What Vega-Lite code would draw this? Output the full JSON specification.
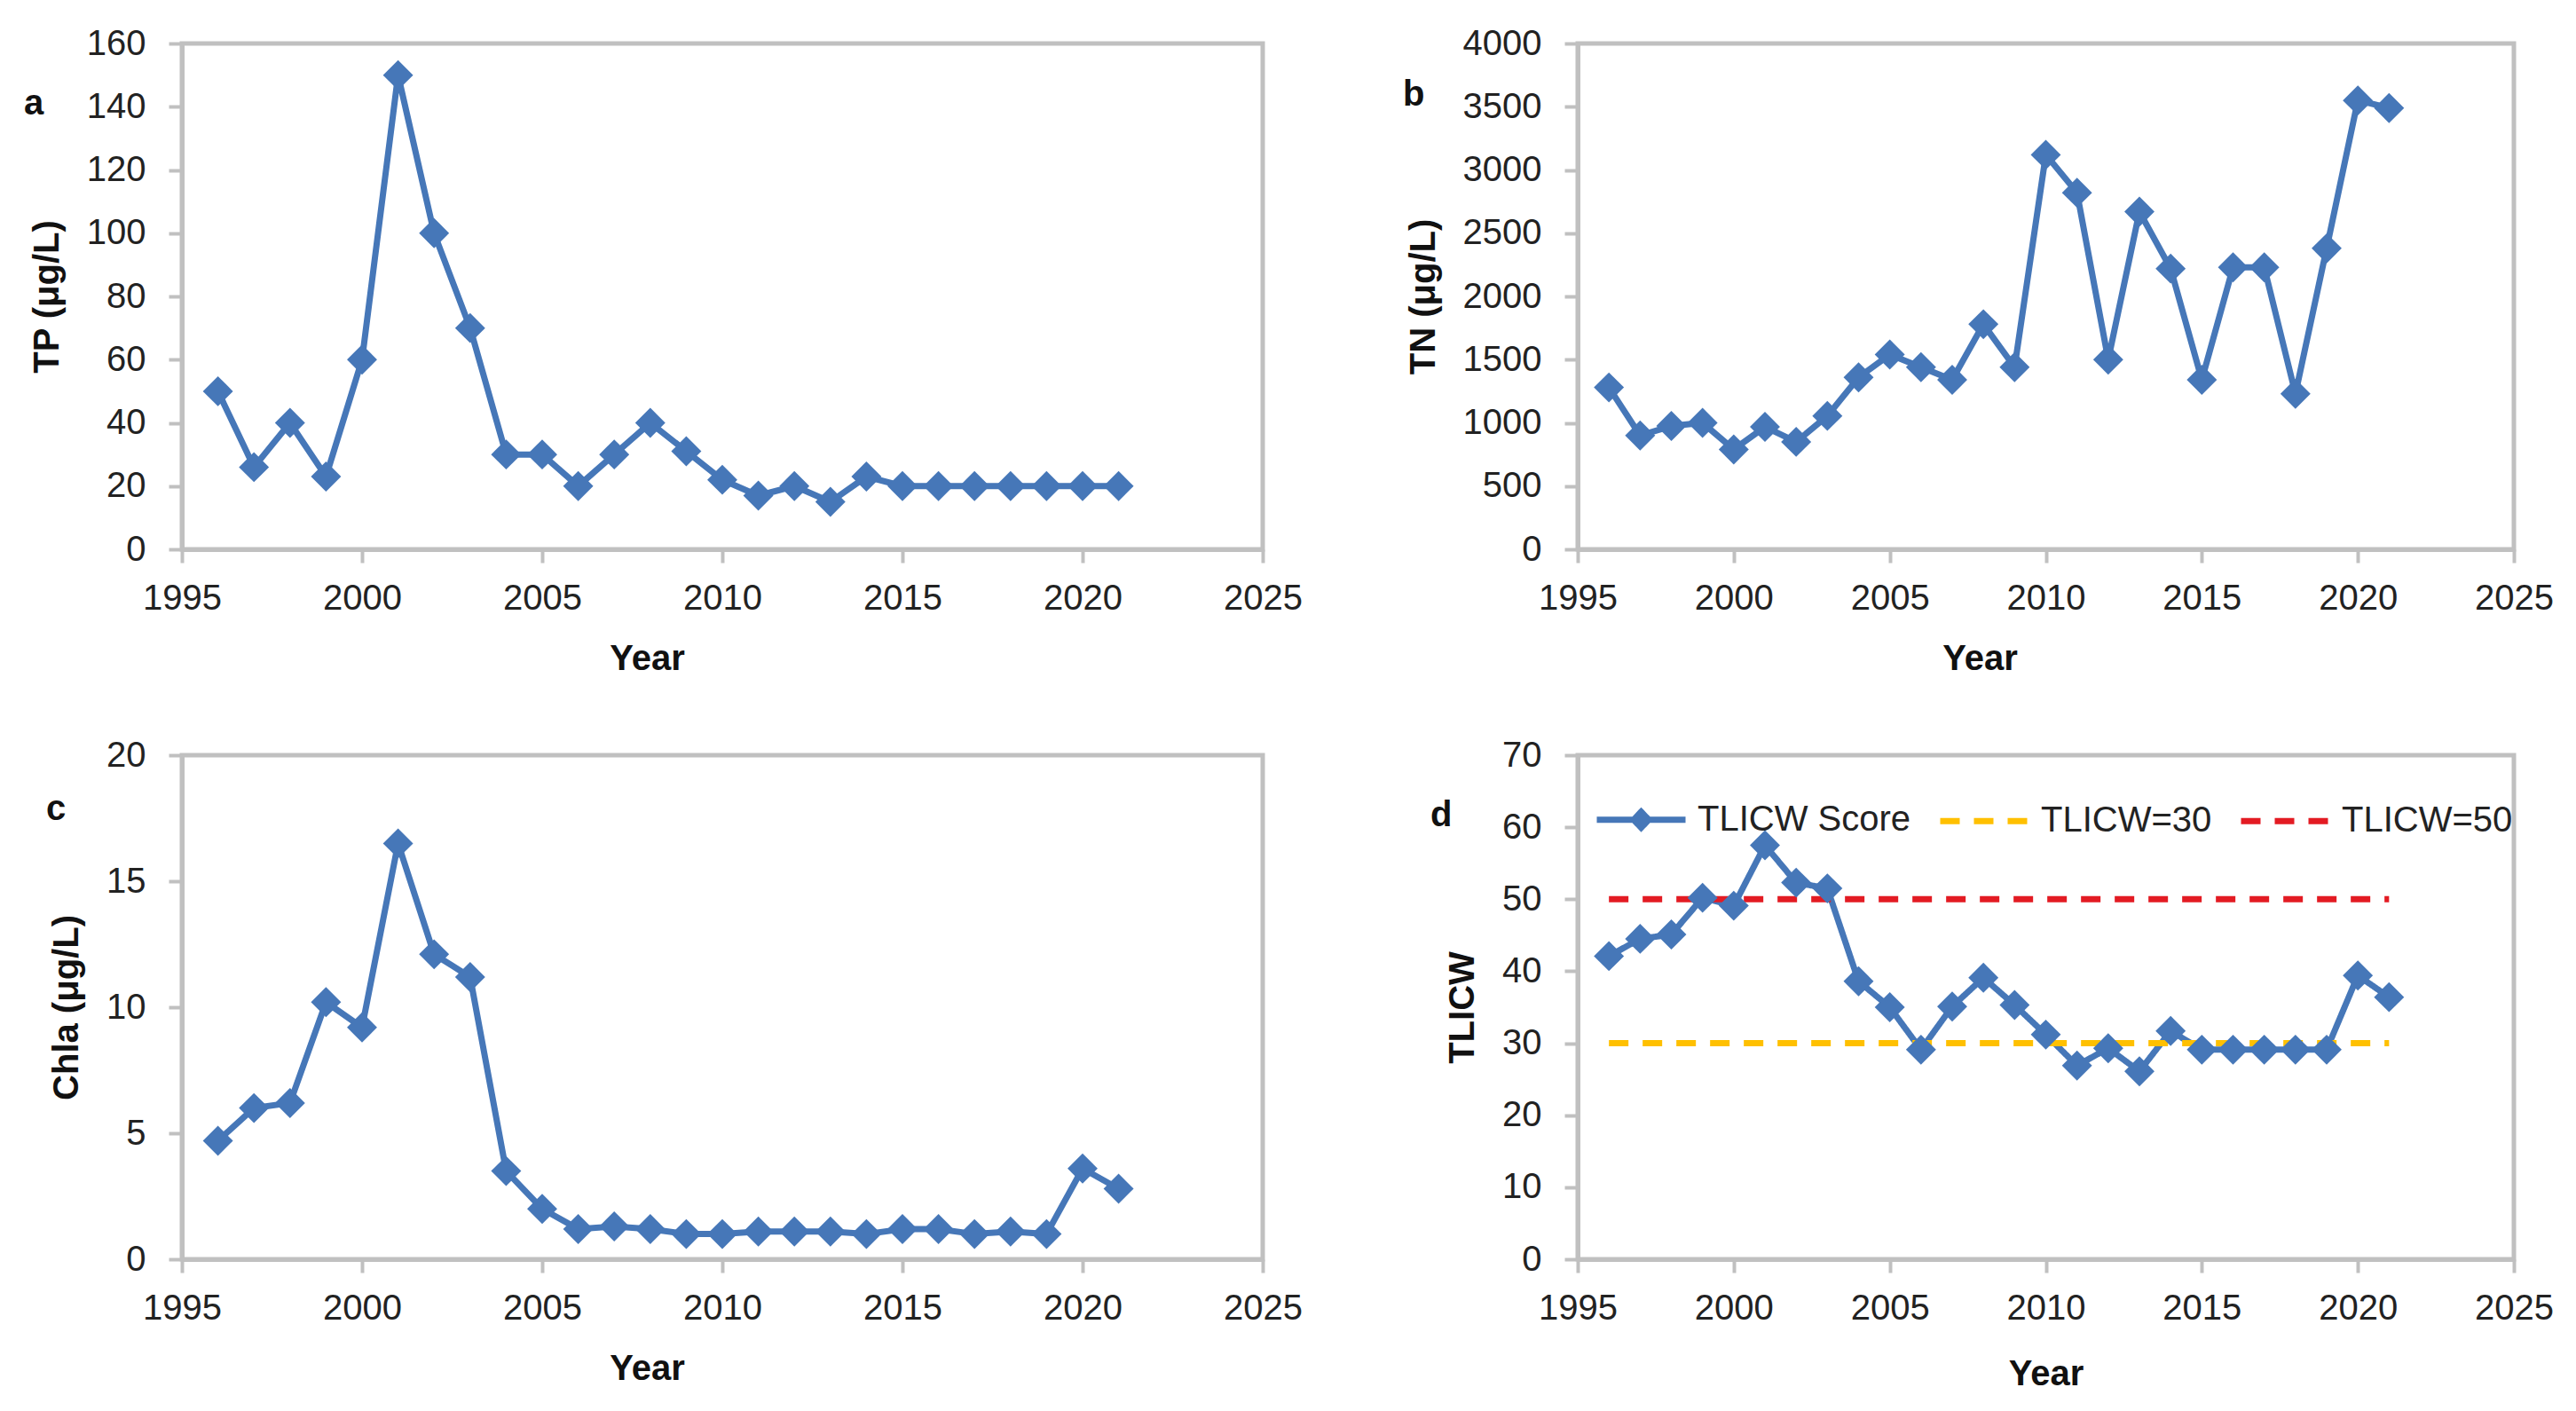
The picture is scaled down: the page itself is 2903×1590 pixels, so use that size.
{
  "$schema": "https://vega.github.io/schema/vega-lite/v6.json",
  "background": "white",
  "padding": {"left": 24, "top": 26, "right": 10, "bottom": 10},
  "bounds": "flush",
  "columns": 2,
  "spacing": {"row": 232, "column": 355},
  "resolve": {"scale": {"x": "independent", "y": "independent", "color": "independent", "strokeDash": "independent"}},
  "datasets": {
    "tp": [
      {"Year": 1996, "TP": 50}, {"Year": 1997, "TP": 26}, {"Year": 1998, "TP": 40}, {"Year": 1999, "TP": 23},
      {"Year": 2000, "TP": 60}, {"Year": 2001, "TP": 150}, {"Year": 2002, "TP": 100}, {"Year": 2003, "TP": 70},
      {"Year": 2004, "TP": 30}, {"Year": 2005, "TP": 30}, {"Year": 2006, "TP": 20}, {"Year": 2007, "TP": 30},
      {"Year": 2008, "TP": 40}, {"Year": 2009, "TP": 31}, {"Year": 2010, "TP": 22}, {"Year": 2011, "TP": 17},
      {"Year": 2012, "TP": 20}, {"Year": 2013, "TP": 15}, {"Year": 2014, "TP": 23}, {"Year": 2015, "TP": 20},
      {"Year": 2016, "TP": 20}, {"Year": 2017, "TP": 20}, {"Year": 2018, "TP": 20}, {"Year": 2019, "TP": 20},
      {"Year": 2020, "TP": 20}, {"Year": 2021, "TP": 20}
    ],
    "tn": [
      {"Year": 1996, "TN": 1280}, {"Year": 1997, "TN": 900}, {"Year": 1998, "TN": 975}, {"Year": 1999, "TN": 1000},
      {"Year": 2000, "TN": 790}, {"Year": 2001, "TN": 968}, {"Year": 2002, "TN": 850}, {"Year": 2003, "TN": 1055},
      {"Year": 2004, "TN": 1360}, {"Year": 2005, "TN": 1540}, {"Year": 2006, "TN": 1440}, {"Year": 2007, "TN": 1340},
      {"Year": 2008, "TN": 1780}, {"Year": 2009, "TN": 1440}, {"Year": 2010, "TN": 3120}, {"Year": 2011, "TN": 2820},
      {"Year": 2012, "TN": 1500}, {"Year": 2013, "TN": 2670}, {"Year": 2014, "TN": 2220}, {"Year": 2015, "TN": 1340},
      {"Year": 2016, "TN": 2230}, {"Year": 2017, "TN": 2230}, {"Year": 2018, "TN": 1230}, {"Year": 2019, "TN": 2380},
      {"Year": 2020, "TN": 3550}, {"Year": 2021, "TN": 3490}
    ],
    "chla": [
      {"Year": 1996, "Chla": 4.7}, {"Year": 1997, "Chla": 6.0}, {"Year": 1998, "Chla": 6.2}, {"Year": 1999, "Chla": 10.2},
      {"Year": 2000, "Chla": 9.2}, {"Year": 2001, "Chla": 16.5}, {"Year": 2002, "Chla": 12.1}, {"Year": 2003, "Chla": 11.2},
      {"Year": 2004, "Chla": 3.5}, {"Year": 2005, "Chla": 2.0}, {"Year": 2006, "Chla": 1.2}, {"Year": 2007, "Chla": 1.3},
      {"Year": 2008, "Chla": 1.2}, {"Year": 2009, "Chla": 1.0}, {"Year": 2010, "Chla": 1.0}, {"Year": 2011, "Chla": 1.1},
      {"Year": 2012, "Chla": 1.1}, {"Year": 2013, "Chla": 1.1}, {"Year": 2014, "Chla": 1.0}, {"Year": 2015, "Chla": 1.2},
      {"Year": 2016, "Chla": 1.2}, {"Year": 2017, "Chla": 1.0}, {"Year": 2018, "Chla": 1.1}, {"Year": 2019, "Chla": 1.0},
      {"Year": 2020, "Chla": 3.6}, {"Year": 2021, "Chla": 2.8}
    ],
    "tlicw": [
      {"Year": 1996, "TLICW": 42.1, "series": "TLICW Score"}, {"Year": 1997, "TLICW": 44.5, "series": "TLICW Score"},
      {"Year": 1998, "TLICW": 45.1, "series": "TLICW Score"}, {"Year": 1999, "TLICW": 50.2, "series": "TLICW Score"},
      {"Year": 2000, "TLICW": 49.1, "series": "TLICW Score"}, {"Year": 2001, "TLICW": 57.5, "series": "TLICW Score"},
      {"Year": 2002, "TLICW": 52.3, "series": "TLICW Score"}, {"Year": 2003, "TLICW": 51.5, "series": "TLICW Score"},
      {"Year": 2004, "TLICW": 38.6, "series": "TLICW Score"}, {"Year": 2005, "TLICW": 35.0, "series": "TLICW Score"},
      {"Year": 2006, "TLICW": 29.1, "series": "TLICW Score"}, {"Year": 2007, "TLICW": 35.1, "series": "TLICW Score"},
      {"Year": 2008, "TLICW": 39.1, "series": "TLICW Score"}, {"Year": 2009, "TLICW": 35.3, "series": "TLICW Score"},
      {"Year": 2010, "TLICW": 31.2, "series": "TLICW Score"}, {"Year": 2011, "TLICW": 26.9, "series": "TLICW Score"},
      {"Year": 2012, "TLICW": 29.3, "series": "TLICW Score"}, {"Year": 2013, "TLICW": 26.1, "series": "TLICW Score"},
      {"Year": 2014, "TLICW": 31.7, "series": "TLICW Score"}, {"Year": 2015, "TLICW": 29.1, "series": "TLICW Score"},
      {"Year": 2016, "TLICW": 29.1, "series": "TLICW Score"}, {"Year": 2017, "TLICW": 29.1, "series": "TLICW Score"},
      {"Year": 2018, "TLICW": 29.1, "series": "TLICW Score"}, {"Year": 2019, "TLICW": 29.1, "series": "TLICW Score"},
      {"Year": 2020, "TLICW": 39.4, "series": "TLICW Score"}, {"Year": 2021, "TLICW": 36.4, "series": "TLICW Score"},
      {"Year": 1996, "TLICW": 30, "series": "TLICW=30"}, {"Year": 2021, "TLICW": 30, "series": "TLICW=30"},
      {"Year": 1996, "TLICW": 50, "series": "TLICW=50"}, {"Year": 2021, "TLICW": 50, "series": "TLICW=50"}
    ]
  },
  "concat": [
    {
      "width": 1218, "height": 570,
      "data": {"name": "tp"},
      "title": {"text": "a", "dx": -178, "dy": 112},
      "encoding": {
        "x": {"field": "Year", "type": "quantitative", "scale": {"domain": [1995, 2025], "nice": false, "zero": false},
              "axis": {"values": [1995, 2000, 2005, 2010, 2015, 2020, 2025], "format": "d", "title": "Year", "titleX": 524}},
        "y": {"field": "TP", "type": "quantitative", "scale": {"domain": [0, 160], "nice": false},
              "axis": {"values": [0, 20, 40, 60, 80, 100, 120, 140, 160], "title": "TP (μg/L)"}}
      },
      "layer": [
        {"mark": {"type": "line", "color": "#4677b8", "strokeWidth": 7}},
        {"mark": {"type": "point", "shape": "diamond", "filled": true, "size": 1150, "color": "#4677b8", "opacity": 1}}
      ]
    },
    {
      "width": 1055, "height": 570,
      "data": {"name": "tn"},
      "title": {"text": "b", "dx": -197, "dy": 102},
      "encoding": {
        "x": {"field": "Year", "type": "quantitative", "scale": {"domain": [1995, 2025], "nice": false, "zero": false},
              "axis": {"values": [1995, 2000, 2005, 2010, 2015, 2020, 2025], "format": "d", "title": "Year", "titleX": 453}},
        "y": {"field": "TN", "type": "quantitative", "scale": {"domain": [0, 4000], "nice": false},
              "axis": {"values": [0, 500, 1000, 1500, 2000, 2500, 3000, 3500, 4000], "format": "d", "title": "TN (μg/L)"}}
      },
      "layer": [
        {"mark": {"type": "line", "color": "#4677b8", "strokeWidth": 7}},
        {"mark": {"type": "point", "shape": "diamond", "filled": true, "size": 1150, "color": "#4677b8", "opacity": 1}}
      ]
    },
    {
      "width": 1218, "height": 568,
      "data": {"name": "chla"},
      "title": {"text": "c", "dx": -153, "dy": 105},
      "encoding": {
        "x": {"field": "Year", "type": "quantitative", "scale": {"domain": [1995, 2025], "nice": false, "zero": false},
              "axis": {"values": [1995, 2000, 2005, 2010, 2015, 2020, 2025], "format": "d", "title": "Year", "titleX": 524}},
        "y": {"field": "Chla", "type": "quantitative", "scale": {"domain": [0, 20], "nice": false},
              "axis": {"values": [0, 5, 10, 15, 20], "title": "Chla (μg/L)"}}
      },
      "layer": [
        {"mark": {"type": "line", "color": "#4677b8", "strokeWidth": 7}},
        {"mark": {"type": "point", "shape": "diamond", "filled": true, "size": 1150, "color": "#4677b8", "opacity": 1}}
      ]
    },
    {
      "width": 1055, "height": 568,
      "data": {"name": "tlicw"},
      "title": {"text": "d", "dx": -166, "dy": 112},
      "encoding": {
        "x": {"field": "Year", "type": "quantitative", "scale": {"domain": [1995, 2025], "nice": false, "zero": false},
              "axis": {"values": [1995, 2000, 2005, 2010, 2015, 2020, 2025], "format": "d", "title": "Year", "titlePadding": 34}},
        "y": {"field": "TLICW", "type": "quantitative", "scale": {"domain": [0, 70], "nice": false},
              "axis": {"values": [0, 10, 20, 30, 40, 50, 60, 70], "title": "TLICW"}}
      },
      "layer": [
        {
          "mark": {"type": "line", "strokeWidth": 7},
          "encoding": {
            "color": {"field": "series", "type": "nominal",
                      "scale": {"domain": ["TLICW Score", "TLICW=30", "TLICW=50"], "range": ["#4677b8", "#ffc000", "#e31b23"]},
                      "legend": {"title": null, "orient": "none", "legendX": 18, "legendY": 19, "direction": "horizontal",
                                 "encode": {"symbols": {"update": {
                                   "shape": {"signal": "datum.value === 'TLICW Score' ? 'M-1,0L1,0M-0.17,0L0,-0.18L0.17,0L0,0.18Z' : 'stroke'"},
                                   "fill": {"signal": "datum.value === 'TLICW Score' ? '#4677b8' : 'transparent'"}
                                 }}}}},
            "strokeDash": {"field": "series", "type": "nominal",
                           "scale": {"domain": ["TLICW Score", "TLICW=30", "TLICW=50"], "range": [[1, 0], [22, 16], [22, 16]]},
                           "legend": {"title": null, "orient": "none", "legendX": 18, "legendY": 19, "direction": "horizontal"}},
            "detail": {"field": "series"}
          }
        },
        {
          "transform": [{"filter": "datum.series === 'TLICW Score'"}],
          "mark": {"type": "point", "shape": "diamond", "filled": true, "size": 1150, "color": "#4677b8", "opacity": 1}
        }
      ]
    }
  ],
  "config": {
    "font": "Liberation Sans",
    "view": {"stroke": "#c0c0c0", "strokeWidth": 5},
    "title": {"anchor": "start", "frame": "group", "orient": "top", "offset": 0, "baseline": "middle", "fontSize": 40, "fontWeight": "bold", "color": "#111", "font": "Liberation Sans"},
    "axis": {"grid": false, "domainColor": "#c0c0c0", "domainWidth": 5, "tickColor": "#c0c0c0", "tickWidth": 4, "tickSize": 15,
             "labelFontSize": 40, "labelColor": "#222", "labelFont": "Liberation Sans", "labelFlush": false, "labelOverlap": false,
             "titleFontSize": 40, "titleFontWeight": "bold", "titleColor": "#111", "titleFont": "Liberation Sans"},
    "axisX": {"labelPadding": 20, "titlePadding": 28},
    "axisY": {"labelPadding": 26, "titlePadding": 24},
    "legend": {"padding": 0, "labelFontSize": 40, "labelColor": "#222", "labelFont": "Liberation Sans", "labelOffset": 10,
               "columnPadding": 18, "symbolSize": 10000, "symbolStrokeWidth": 7, "symbolType": "stroke", "labelLimit": 0}
  }
}
